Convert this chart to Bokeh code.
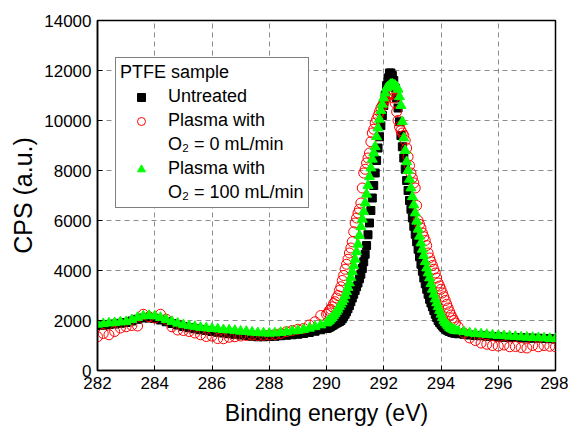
from bokeh.plotting import figure
from bokeh.models import Legend, LegendItem, FixedTicker, Range1d
from bokeh.embed import file_html
from bokeh.resources import INLINE

# ---------------- data ----------------
energy = [
    282.0, 282.2, 282.4, 282.6, 282.8, 283.0, 283.2, 283.4, 283.6, 283.8,
    284.0, 284.2, 284.4, 284.6, 284.8, 285.0, 285.2, 285.4, 285.6, 285.8,
    286.0, 286.2, 286.4, 286.6, 286.8, 287.0, 287.2, 287.4, 287.6, 287.8,
    288.0, 288.2, 288.4, 288.6, 288.8, 289.0, 289.2, 289.4, 289.6, 289.8,
    290.00, 290.05, 290.10, 290.15, 290.20, 290.25, 290.30, 290.35, 290.40, 290.45,
    290.50, 290.55, 290.60, 290.65, 290.70, 290.75, 290.80, 290.85, 290.90, 290.95,
    291.00, 291.05, 291.10, 291.15, 291.20, 291.25, 291.30, 291.35, 291.40, 291.45,
    291.50, 291.55, 291.60, 291.65, 291.70, 291.75, 291.80, 291.85, 291.90, 291.95,
    292.00, 292.05, 292.10, 292.15, 292.20, 292.25, 292.30, 292.35, 292.40, 292.45,
    292.50, 292.55, 292.60, 292.65, 292.70, 292.75, 292.80, 292.85, 292.90, 292.95,
    293.00, 293.05, 293.10, 293.15, 293.20, 293.25, 293.30, 293.35, 293.40, 293.45,
    293.50, 293.55, 293.60, 293.65, 293.70, 293.75, 293.80, 293.85, 293.90, 293.95,
    294.00, 294.05, 294.10, 294.15, 294.20, 294.25, 294.30, 294.35, 294.40, 294.45,
    294.50,
    294.6, 294.8, 295.0, 295.2, 295.4, 295.6, 295.8, 296.0, 296.2, 296.4,
    296.6, 296.8, 297.0, 297.2, 297.4, 297.6, 297.8, 298.0,
]

untreated = [
    1800, 1810, 1840, 1860, 1890, 1920, 1980, 2050, 2100, 2100,
    2080, 2020, 1950, 1880, 1820, 1760, 1710, 1670, 1630, 1600,
    1560, 1530, 1500, 1470, 1450, 1420, 1400, 1370, 1350, 1350,
    1360, 1370, 1390, 1410, 1430, 1450, 1480, 1520, 1570, 1630,
    1680, 1700, 1730, 1760, 1800, 1830, 1870, 1900, 1930, 1960,
    2000, 2070, 2150, 2250, 2350, 2470, 2600, 2750, 2900, 3050,
    3200, 3350, 3500, 3670, 3850, 4080, 4350, 4650, 5000, 5430,
    5900, 6400, 6900, 7400, 7900, 8400, 8900, 9350, 9800, 10200,
    10600, 11000, 11400, 11700, 11900, 11900, 11800, 11600, 11300, 10900,
    10500, 9950, 9400, 8950, 8500, 8050, 7600, 7200, 6800, 6450,
    6100, 5770, 5450, 5150, 4850, 4550, 4250, 3970, 3700, 3470,
    3250, 3050, 2850, 2700, 2550, 2400, 2250, 2120, 2000, 1920,
    1850, 1780, 1720, 1670, 1620, 1590, 1560, 1540, 1520, 1500,
    1490,
    1470, 1450, 1420, 1400, 1390, 1370, 1360, 1340, 1330, 1320,
    1320, 1310, 1300, 1290, 1290, 1280, 1270, 1260,
]

plasma_o2_0 = [
    1350, 1480, 1430, 1560, 1700, 1750, 1800, 1780, 2250, 2150,
    2100, 2250, 2050, 1750, 1620, 1600, 1560, 1500, 1430, 1360,
    1380, 1280, 1270, 1330, 1350, 1380, 1400, 1420, 1400, 1410,
    1420, 1440, 1480, 1550, 1600, 1650, 1680, 1820, 1950, 2200,
    2250, 2300, 2400, 2450, 2550, 2680, 2750, 2900, 3000, 3200,
    3350, 3600, 3800, 4050, 4250, 4450, 4700, 4900, 5150, 5550,
    5900, 6100, 6300, 6450, 6700, 7300, 7900, 8050, 8300, 8500,
    8700, 9150, 9500, 9650, 9900, 10050, 10200, 10350, 10500, 10600,
    10700, 10850, 10950, 11050, 11100, 11100, 11050, 10900, 10700, 10350,
    10000, 9750, 9600, 9500, 9400, 9200, 8900, 8550, 8200, 7900,
    7700, 7500, 7300, 6600, 6000, 5850, 5700, 5500, 5350, 5200,
    5000, 4700, 4500, 4350, 4200, 4050, 3900, 3700, 3500, 3380,
    3250, 3100, 2950, 2800, 2650, 2500, 2350, 2220, 2100, 2000,
    1900,
    1750, 1500, 1300, 1200, 1100, 1050, 1000, 980, 1020, 950,
    960, 920, 900, 1000, 950, 1000, 970, 950,
]

plasma_o2_100 = [
    1850, 1870, 1900, 1910, 1940, 1950, 2030, 2120, 2180, 2200,
    2180, 2120, 2040, 1960, 1890, 1830, 1790, 1760, 1720, 1700,
    1680, 1660, 1630, 1620, 1600, 1570, 1560, 1530, 1510, 1500,
    1490, 1500, 1520, 1540, 1580, 1600, 1640, 1690, 1750, 1820,
    1900, 1950, 2000, 2060, 2120, 2200, 2280, 2360, 2450, 2550,
    2650, 2750, 2850, 3000, 3150, 3320, 3500, 3720, 3950, 4200,
    4450, 4750, 5050, 5400, 5750, 6050, 6350, 6700, 7050, 7400,
    7750, 8100, 8450, 8700, 8950, 9350, 9700, 10050, 10400, 10650,
    10900, 11100, 11300, 11350, 11400, 11450, 11450, 11430, 11400, 11350,
    11250, 10950, 10600, 9950, 9300, 8800, 8350, 8000, 7650, 7300,
    6950, 6620, 6300, 5970, 5650, 5370, 5100, 4850, 4600, 4350,
    4100, 3900, 3700, 3470, 3250, 3050, 2860, 2700, 2550, 2400,
    2250, 2120, 2000, 1920, 1850, 1780, 1720, 1680, 1650, 1620,
    1600,
    1580, 1550, 1500, 1480, 1460, 1440, 1420, 1400, 1390, 1370,
    1360, 1340, 1330, 1320, 1310, 1300, 1280, 1270,
]

x_ticks = [282, 284, 286, 288, 290, 292, 294, 296, 298]
y_ticks = [0, 2000, 4000, 6000, 8000, 10000, 12000, 14000]

FONT = "Liberation Sans"

# ---------------- figure ----------------
p = figure(
    width=568, height=428,
    x_range=Range1d(282, 298), y_range=Range1d(0, 14000),
    output_backend="svg", toolbar_location=None,
    min_border_left=97, min_border_right=13,
    min_border_top=20, min_border_bottom=56,
    x_axis_label="Binding energy (eV)", y_axis_label="CPS (a.u.)",
)
p.background_fill_color = "white"
p.border_fill_color = "white"
p.outline_line_color = "black"
p.outline_line_width = 1.5

for ax, ticks in ((p.xaxis[0], x_ticks), (p.yaxis[0], y_ticks)):
    ax.ticker = FixedTicker(ticks=ticks)
    ax.axis_line_color = "black"
    ax.axis_line_width = 1.5
    ax.major_tick_in = 5
    ax.major_tick_out = 0
    ax.major_tick_line_color = "black"
    ax.minor_tick_line_color = None
    ax.major_label_text_font = FONT
    ax.major_label_text_font_size = "17px"
    ax.major_label_text_color = "black"
    ax.axis_label_text_font = FONT
    ax.axis_label_text_font_style = "normal"
    ax.axis_label_text_color = "black"

p.xaxis.axis_label_text_font_size = "23px"
p.yaxis.axis_label_text_font_size = "25px"
p.xaxis.major_label_standoff = 6
p.yaxis.major_label_standoff = 6
p.xaxis.axis_label_standoff = 8
p.yaxis.axis_label_standoff = 4

for g, ticks in ((p.xgrid[0], x_ticks), (p.ygrid[0], y_ticks)):
    g.ticker = FixedTicker(ticks=ticks)
    g.grid_line_color = "#8c8c8c"
    g.grid_line_dash = "5 4"
    g.grid_line_width = 1

# ---------------- series ----------------
r_u = p.scatter(energy, untreated, marker="square", size=8,
                fill_color="black", line_color="black")
r_0 = p.scatter(energy, plasma_o2_0, marker="circle", size=10,
                fill_color=None, line_color="#ff0000", line_width=1)
r_100 = p.scatter(energy, plasma_o2_100, marker="triangle", size=10,
                  fill_color="#00ff00", line_color="#00ff00")
blank = p.scatter(x=[], y=[], marker="circle", size=1, alpha=0)

legend = Legend(
    items=[
        LegendItem(label="Untreated", renderers=[r_u]),
        LegendItem(label="Plasma with", renderers=[r_0]),
        LegendItem(label="O\u2082 = 0 mL/min", renderers=[blank]),
        LegendItem(label="Plasma with", renderers=[r_100]),
        LegendItem(label="O\u2082 = 100 mL/min", renderers=[blank]),
    ],
    location=(18, 162),
    title="PTFE sample",
    title_text_font=FONT, title_text_font_size="18px",
    title_text_font_style="normal", title_text_color="black",
    title_standoff=3,
    label_text_font=FONT, label_text_font_size="18px", label_text_color="black",
    border_line_color="black", border_line_width=1,
    background_fill_color="white", background_fill_alpha=1,
    padding=4, spacing=3, margin=0,
    glyph_width=42, glyph_height=20, label_height=20, label_standoff=6,
)
p.add_layout(legend)

open("out.html", "w").write(file_html(p, INLINE))
